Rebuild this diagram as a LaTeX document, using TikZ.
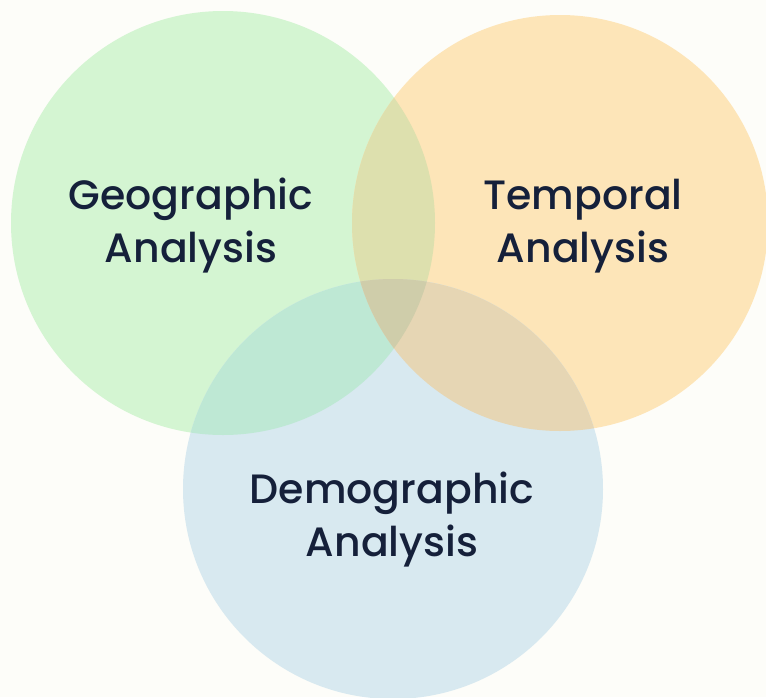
\documentclass[tikz,border=0pt]{standalone}
\usepackage{fontspec}
\setmainfont{Poppins}[UprightFont={* Medium}]
\definecolor{bg}{HTML}{FDFDF9}
\definecolor{cg}{HTML}{D4F5D2}
\definecolor{co}{HTML}{FDE5B8}
\definecolor{cb}{HTML}{D8E9F0}
\definecolor{cgo}{HTML}{DDE0AE}
\definecolor{cgb}{HTML}{BEE8D4}
\definecolor{cob}{HTML}{E6D6B4}
\definecolor{cgob}{HTML}{CFCDAA}
\definecolor{ink}{HTML}{15203A}
\tikzset{lab/.style={text=ink, align=center, font=\fontsize{41}{53}\selectfont}}
\begin{document}
\begin{tikzpicture}[x=1pt,y=-1pt]
\fill[bg] (0,0) rectangle (766,697);
\useasboundingbox (0,0) rectangle (766,697);
\def\G{(223,223) circle (212)}
\def\O{(560,223) circle (208)}
\def\B{(393,489) circle (210)}
\fill[cg] \G;
\fill[co] \O;
\fill[cb] \B;
\begin{scope}\clip \G; \fill[cgo] \O; \end{scope}
\begin{scope}\clip \G; \fill[cgb] \B; \end{scope}
\begin{scope}\clip \O; \fill[cob] \B; \end{scope}
\begin{scope}\clip \G; \clip \O; \fill[cgob] \B; \end{scope}
\node[lab] (geo) at (191,226) {Geographic\\Analysis};
\node[lab] (tem) at (583,226) {Temporal\\Analysis};
\node[lab] (dem) at (392,520) {Demographic\\Analysis};
\end{tikzpicture}
\end{document}
